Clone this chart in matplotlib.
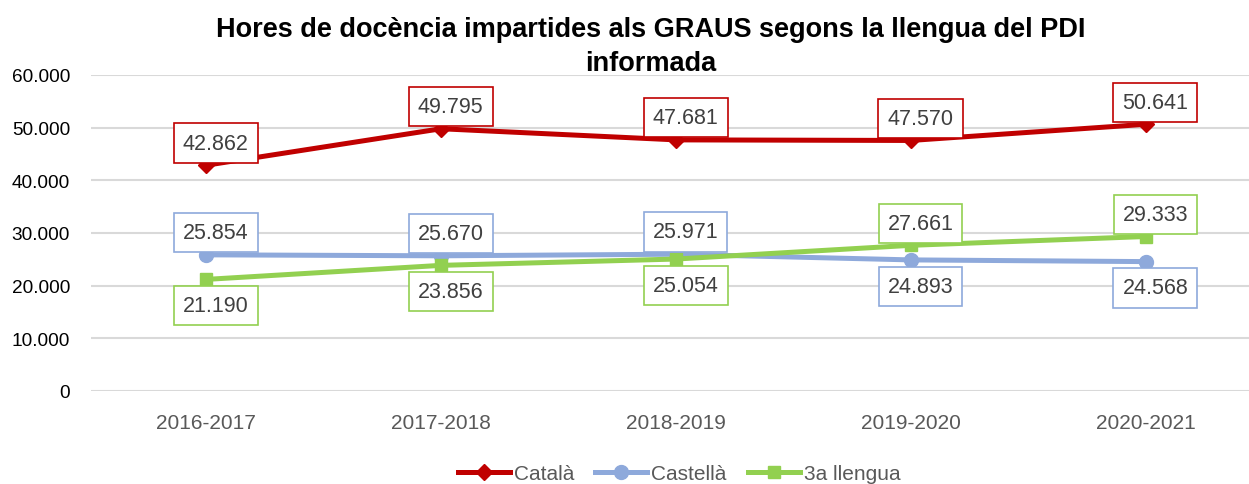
import matplotlib.pyplot as plt

# dades
cursos = ["2016-2017", "2017-2018", "2018-2019", "2019-2020", "2020-2021"]
catala = [42862, 49795, 47681, 47570, 50641]
castella = [25854, 25670, 25971, 24893, 24568]
tercera = [21190, 23856, 25054, 27661, 29333]

# posicio de l'etiqueta: 1 = a sobre, -1 = a sota
pos_catala = [1, 1, 1, 1, 1]
pos_castella = [1, 1, 1, -1, -1]
pos_tercera = [-1, -1, -1, 1, 1]

C_CAT = "#C00000"
C_CAS = "#8EA9DB"
C_TER = "#92D050"

plt.rcParams["font.family"] = ["Liberation Sans", "DejaVu Sans"]


def fmt(v):
    return f"{v:,}".replace(",", ".")


def etiquetes(ax, xs, ys, pos, color):
    for x, y, p in zip(xs, ys, pos):
        dy = 16 if p > 0 else -19
        ax.annotate(fmt(y), (x, y), xytext=(7, dy), textcoords="offset points",
                    ha="center", va="center", fontsize=15.5, color="#404040",
                    bbox=dict(boxstyle="square,pad=0.42", fc="white", ec=color, lw=1.2),
                    zorder=5)


fig = plt.figure(figsize=(12.49, 4.85), dpi=100)
ax = fig.add_axes([91 / 1249, 93 / 485, 1 - 91 / 1249, 316 / 485])

x = list(range(len(cursos)))
ax.plot(x, catala, color=C_CAT, lw=3.6, marker="D", ms=8, label="Català", zorder=3)
ax.plot(x, castella, color=C_CAS, lw=3.6, marker="o", ms=10, label="Castellà", zorder=3)
ax.plot(x, tercera, color=C_TER, lw=3.6, marker="s", ms=9, label="3a llengua", zorder=3)

etiquetes(ax, x, catala, pos_catala, C_CAT)
etiquetes(ax, x, castella, pos_castella, C_CAS)
etiquetes(ax, x, tercera, pos_tercera, C_TER)

ax.set_ylim(0, 60000)
ax.set_xlim(-0.49, 4.44)
ax.set_yticks(range(0, 60001, 10000))
ax.set_yticklabels([fmt(v) for v in range(0, 60001, 10000)], fontsize=13.7, color="black")
ax.set_xticks(x)
ax.set_xticklabels(cursos, fontsize=15, color="#595959")
ax.tick_params(length=0)
ax.tick_params(axis="x", pad=16)
ax.tick_params(axis="y", pad=15)
ax.grid(axis="y", color="#D9D9D9", lw=1.5)
ax.set_axisbelow(True)
for s in ax.spines.values():
    s.set_visible(False)

fig.text(651 / 1249, 1 - 47 / 485,
         "Hores de docència impartides als GRAUS segons la llengua del PDI\ninformada",
         ha="center", va="center", fontsize=19.5, fontweight="bold", linespacing=1.42)

fig.legend(loc="center", bbox_to_anchor=(679 / 1249, 10 / 485), ncol=3, frameon=False,
           fontsize=15, labelcolor="#595959", handlelength=2.5, handletextpad=0.2,
           columnspacing=1.0)

fig.savefig("out.png", dpi=100)
